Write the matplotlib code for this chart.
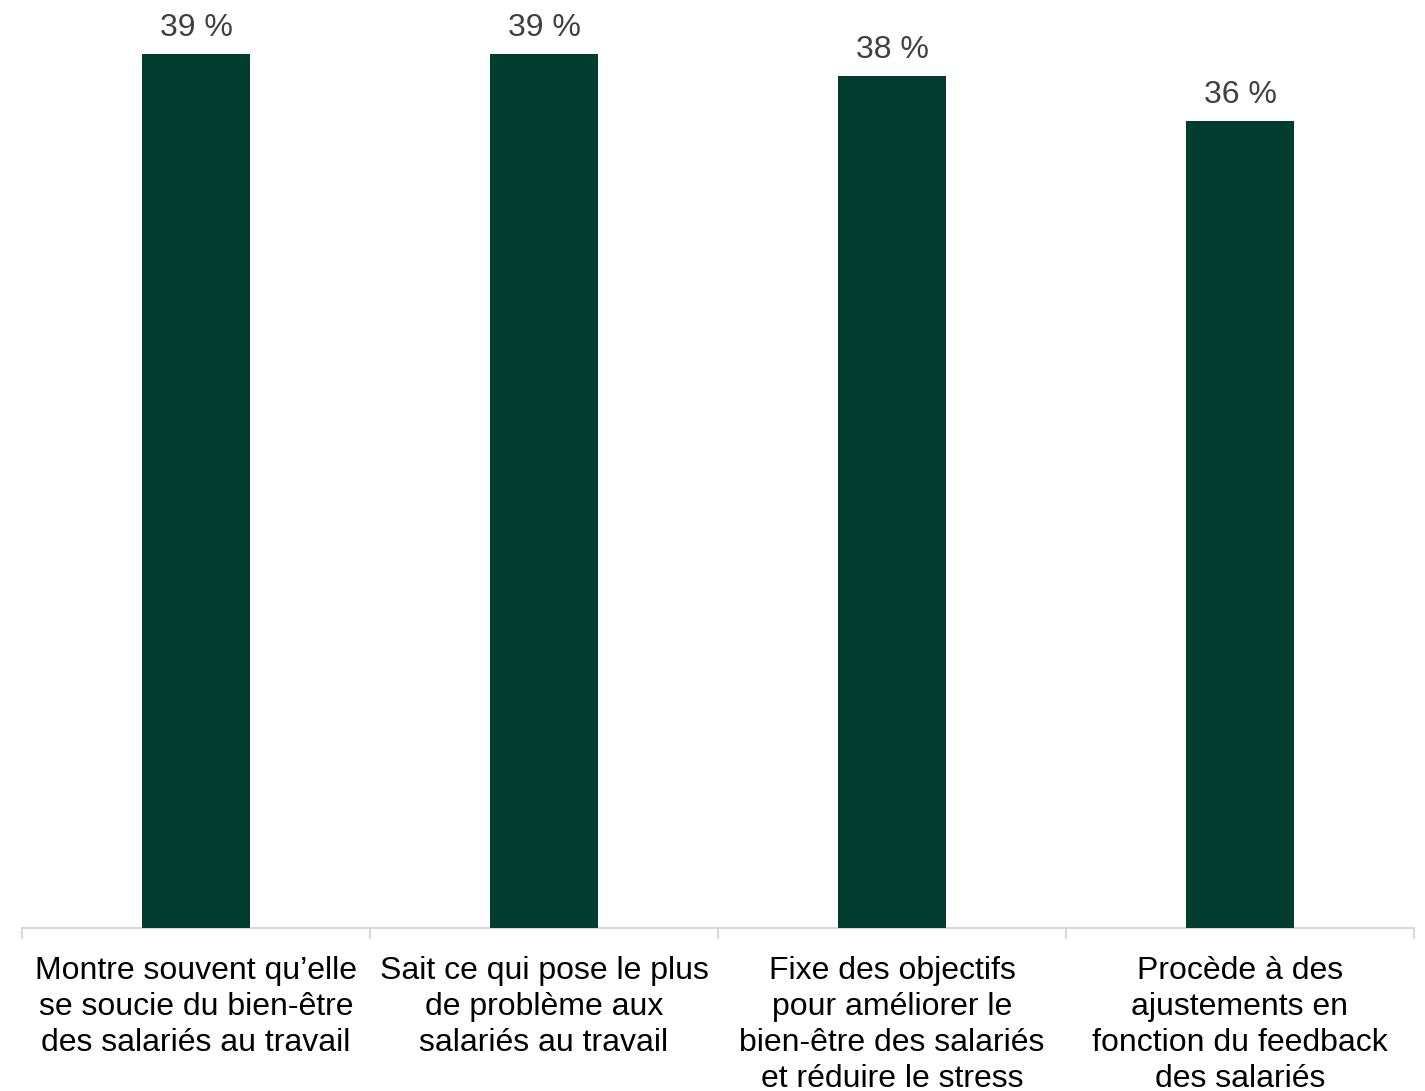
import matplotlib
matplotlib.use("Agg")
import matplotlib.pyplot as plt
import numpy as np

categories = [
    "Montre souvent qu\u2019elle\nse soucie du bien-être\ndes salariés au travail",
    "Sait ce qui pose le plus\nde problème aux\nsalariés au travail",
    "Fixe des objectifs\npour améliorer le\nbien-être des salariés\net réduire le stress",
    "Procède à des\najustements en\nfonction du feedback\ndes salariés",
]
values = [39, 39, 38, 36]
value_labels = ["39 %", "39 %", "38 %", "36 %"]

BAR_COLOR = "#003D2E"

plt.rcParams["font.family"] = ["Liberation Sans", "DejaVu Sans"]

fig = plt.figure(figsize=(14.25, 10.91), dpi=100)
ax = fig.add_axes([22 / 1425, (1091 - 928) / 1091, (1414 - 22) / 1425, 928 / 1091])

x = np.arange(len(categories))
ax.bar(x, values, width=0.313, color=BAR_COLOR, zorder=3)

for xi, v, lab in zip(x, values, value_labels):
    ax.annotate(lab, (xi, v), xytext=(0, 8), textcoords="offset points",
                ha="center", va="bottom", fontsize=23, color="#404040")

ax.set_xlim(-0.5, len(categories) - 0.5)
ax.set_ylim(0, 41.4)

ax.set_xticks(x)
ax.set_xticklabels(categories, fontsize=23, color="black", linespacing=1.27)
ax.tick_params(axis="x", which="major", length=0, pad=20)
ax.set_xticks(np.arange(len(categories) + 1) - 0.5, minor=True)
ax.tick_params(axis="x", which="minor", length=8, width=1.5, color="#D9D9D9")
ax.set_yticks([])

for side in ("top", "right", "left"):
    ax.spines[side].set_visible(False)
ax.spines["bottom"].set_color("#D9D9D9")
ax.spines["bottom"].set_linewidth(1.5)

fig.savefig("out.png", dpi=100)
